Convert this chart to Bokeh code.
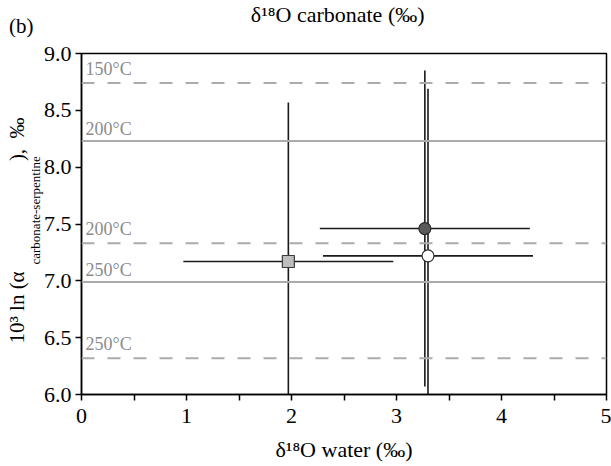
from bokeh.embed import file_html
from bokeh.models import FixedTicker, Label, Span, Title
from bokeh.plotting import figure
from bokeh.resources import INLINE

# Isotherm reference lines (fractionation at given temperature, two calibrations)
iso_labels = ["150°C", "200°C", "200°C", "250°C", "250°C"]
iso_values = [8.74, 8.23, 7.33, 6.99, 6.32]
iso_dashed = [True, False, True, False, True]

# Samples: water d18O vs. carbonate-serpentine fractionation
water_d18o = [1.97, 3.27, 3.30]
frac = [7.17, 7.46, 7.22]
water_err = [1.0, 1.0, 1.0]
frac_err = [1.40, 1.39, 1.47]
marker_kind = ["square", "circle", "circle"]
marker_fill = ["#bdbdbd", "#5a5a5a", "#ffffff"]

x_ticks = [0, 0.5, 1, 1.5, 2, 2.5, 3, 3.5, 4, 4.5, 5]
x_tick_text = {0: "0", 1: "1", 2: "2", 3: "3", 4: "4", 5: "5"}
y_ticks = [6.0, 6.5, 7.0, 7.5, 8.0, 8.5, 9.0]

SERIF = "Liberation Serif"
GRAY_LINE = "#ababab"
GRAY_TEXT = "#8c8c8c"
NBSP = "\u00a0"

p = figure(
    width=611, height=466,
    x_range=(0, 5), y_range=(6, 9),
    output_backend="svg", toolbar_location=None,
    min_border_left=81, min_border_right=5,
    min_border_top=53, min_border_bottom=72,
)
p.title.visible = False
p.background_fill_color = "white"
p.border_fill_color = "white"
p.outline_line_color = "black"
p.outline_line_width = 1.5
p.grid.visible = False

for ax in (p.xaxis[0], p.yaxis[0]):
    ax.axis_line_width = 1.5
    ax.major_tick_line_width = 1.5
    ax.major_tick_in = 0
    ax.major_tick_out = 6
    ax.minor_tick_line_color = None
    ax.major_label_text_font = SERIF
    ax.major_label_text_font_size = "22px"
    ax.major_label_text_color = "black"

p.xaxis.ticker = FixedTicker(ticks=x_ticks)
p.xaxis.major_label_overrides = {t: x_tick_text.get(t, "") for t in x_ticks}
p.xaxis.major_label_standoff = 8
p.xaxis.axis_label = "δ¹⁸O water (‰)"
p.xaxis.axis_label_text_font = SERIF
p.xaxis.axis_label_text_font_size = "22px"
p.xaxis.axis_label_text_font_style = "normal"
p.xaxis.axis_label_text_color = "black"
p.xaxis.axis_label_standoff = 11

p.yaxis.ticker = FixedTicker(ticks=y_ticks)
p.yaxis.major_label_overrides = {t: f"{t:.1f}" for t in y_ticks}
p.yaxis.major_label_standoff = 4
p.yaxis.axis_label = None

# isotherms
for lab, v, dashed in zip(iso_labels, iso_values, iso_dashed):
    p.add_layout(Span(location=v, dimension="width", line_color=GRAY_LINE,
                      line_width=2, line_dash="13 13" if dashed else "solid"))
    p.add_layout(Label(x=0, y=v, x_offset=4, y_offset=14 if dashed else 12,
                       text=lab, text_font=SERIF, text_font_size="18px",
                       text_color=GRAY_TEXT, text_baseline="alphabetic"))

# error bars
x0 = [x - e for x, e in zip(water_d18o, water_err)]
x1 = [x + e for x, e in zip(water_d18o, water_err)]
y0 = [y - e for y, e in zip(frac, frac_err)]
y1 = [y + e for y, e in zip(frac, frac_err)]
p.segment(x0, frac, x1, frac, line_color="#1a1a1a", line_width=1.6)
p.segment(water_d18o, y0, water_d18o, y1, line_color="#1a1a1a", line_width=1.6)

# markers
for x, y, kind, fill in zip(water_d18o, frac, marker_kind, marker_fill):
    if kind == "square":
        p.scatter([x], [y], marker="square", size=12, fill_color=fill,
                  line_color="#3c3c3c", line_width=1.2)
    else:
        p.scatter([x], [y], marker="circle", size=12, fill_color=fill,
                  line_color="#2a2a2a", line_width=1.2)

# panel tag and the companion panel's axis title, placed in the top border
# (side-panel annotations are not clipped to the frame)
p.add_layout(Label(x=-0.69, y=9.245, text="(b)", text_font=SERIF,
                   text_font_size="21px", text_color="black",
                   text_baseline="alphabetic"), "above")
p.add_layout(Label(x=2.44, y=9.343, text="δ¹⁸O carbonate (‰)", text_font=SERIF,
                   text_font_size="22px", text_color="black",
                   text_align="center", text_baseline="alphabetic"), "above")


def side_title(text, side, size, offset, standoff, valign="bottom"):
    p.add_layout(Title(text=text, align="left", offset=offset, standoff=standoff,
                       vertical_align=valign, text_font=SERIF,
                       text_font_size=size, text_font_style="normal",
                       text_color="black"), side)


# y axis title: 10^3 ln(α carbonate-serpentine), ‰  (subscript on its own baseline)
side_title("carbonate-serpentine", "left", "13px", 130, -4)
side_title("10³ ln (α" + NBSP * 21 + ")," + NBSP * 2 + "‰", "left", "21px", 51, -2)

open("out.html", "w").write(file_html(p, INLINE))
